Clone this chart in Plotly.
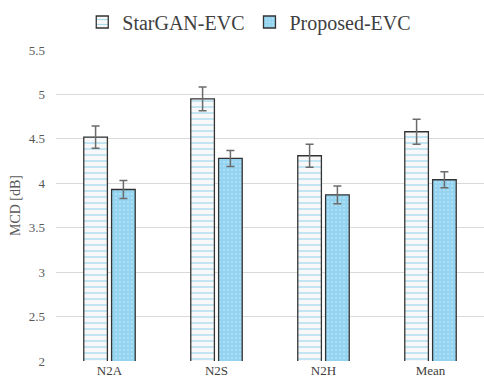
import plotly.graph_objects as go

categories = ["N2A", "N2S", "N2H", "Mean"]
stargan = [4.52, 4.95, 4.31, 4.58]
stargan_err = [0.125, 0.135, 0.13, 0.14]
proposed = [3.93, 4.28, 3.87, 4.04]
proposed_err = [0.10, 0.09, 0.10, 0.09]

font_family = "Liberation Serif, Times New Roman, serif"

fig = go.Figure()
fig.add_trace(go.Bar(
    name="StarGAN-EVC", x=categories, y=stargan,
    error_y=dict(type="data", array=stargan_err, color="#6b6b6b", thickness=1.5, width=4),
    marker=dict(color="#f8f8f8",
                line=dict(color="#333333", width=1.3),
                pattern=dict(shape="-", fgcolor="#45b6e6", bgcolor="#f8f8f8", size=6, solidity=0.2)),
))
fig.add_trace(go.Bar(
    name="Proposed-EVC", x=categories, y=proposed,
    error_y=dict(type="data", array=proposed_err, color="#6b6b6b", thickness=1.5, width=4),
    marker=dict(color="#3ab4e6",
                line=dict(color="#333333", width=1.3),
                pattern=dict(shape=".", fgcolor="#2aaae2", bgcolor="#ffffff", size=4, solidity=0.85)),
))

fig.update_layout(
    width=484, height=383,
    margin=dict(l=56, r=0, t=50, b=22, autoexpand=False),
    paper_bgcolor="white", plot_bgcolor="white",
    barmode="group", bargap=0.48, bargroupgap=0.15,
    font=dict(family=font_family, color="#595959", size=12),
    showlegend=True,
    legend=dict(orientation="h", xref="container", x=0.515, xanchor="center",
                yref="container", y=1 - 22 / 383, yanchor="middle",
                font=dict(size=20, color="#404040", family=font_family),
                itemwidth=30, bgcolor="rgba(0,0,0,0)"),
)
fig.update_xaxes(showgrid=False, showline=False, zeroline=False,
                 tickfont=dict(size=13, color="#404040"))
fig.update_yaxes(range=[2, 5.5], dtick=0.5, tick0=2,
                 showgrid=True, gridcolor="#d9d9d9", gridwidth=1,
                 zeroline=False, showline=False,
                 ticklabelstandoff=10,
                 tickfont=dict(size=13, color="#595959"),
                 title=dict(text="MCD [dB]", font=dict(size=14, color="#595959"), standoff=4))

fig.write_html("out.html")
